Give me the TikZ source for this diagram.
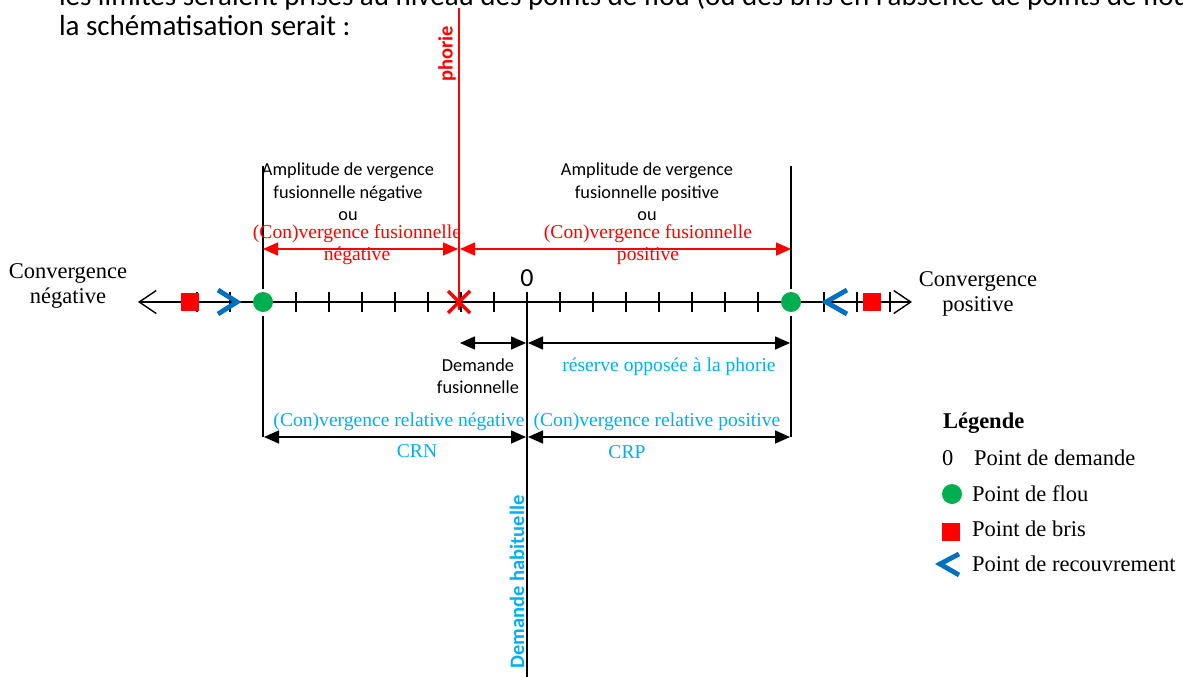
\documentclass[tikz,border=0pt]{standalone}
\usepackage{fontspec}
\setmainfont{Liberation Serif}
\newfontfamily\calib{Carlito}
\usetikzlibrary{arrows.meta}
\definecolor{xred}{HTML}{FF0000}
\definecolor{xblue}{HTML}{0070C0}
\definecolor{xlblue}{HTML}{00B0F0}
\definecolor{xgreen}{HTML}{00B050}
\begin{document}
\begin{tikzpicture}[x=1pt,y=-1pt,
  every node/.style={inner sep=0pt,outer sep=0pt},
  sanslbl/.style={font=\calib\fontsize{18.3}{22.3}\selectfont,align=center},
  seriflbl/.style={font=\fontsize{19.6}{22}\selectfont,align=center},
  bigserif/.style={font=\fontsize{22.5}{25}\selectfont,align=center},
  legtxt/.style={font=\fontsize{22.5}{26}\selectfont,anchor=west},
  vertlbl/.style={rotate=90,font=\calib\bfseries\fontsize{20.5}{24}\selectfont},
  dim/.style={line width=1.6pt,{Triangle[length=15pt,width=13pt]}-{Triangle[length=15pt,width=13pt]}},
  guide/.style={line width=1.2pt},
  tickmark/.style={line width=1.3pt},
  chev/.style={line width=4.8pt,xblue},
  flou/.style={circle,fill=xgreen,minimum size=20pt},
  bris/.style={fill=xred,minimum size=18pt},
  croix/.style={xred,line width=3.5pt},
]
\useasboundingbox (0,0) rectangle (1183,677);
\begin{scope}
\clip (0,0) rectangle (1183,677);
\node[anchor=base west,font=\calib\fontsize{29}{30}\selectfont] (intro1) at (59,6) {les limites seraient prises au niveau des points de flou (ou des bris en l’absence de points de flou)};
\node[anchor=base west,font=\calib\fontsize{29}{30}\selectfont] (intro2) at (59,36) {la schématisation serait :};
\end{scope}

% named coordinates
\coordinate (AL) at (138,302);
\coordinate (AR) at (912,302);
\coordinate (phT) at (459,8);
\coordinate (phB) at (459,310);
\coordinate (LT) at (263,166);
\coordinate (LM1) at (263,289);
\coordinate (LM2) at (263,316);
\coordinate (LB) at (263,437);
\coordinate (RT) at (791,166);
\coordinate (RM1) at (791,289);
\coordinate (RM2) at (791,316);
\coordinate (RB) at (791,437);
\coordinate (CT) at (527,302);
\coordinate (CB) at (527,677);

% vertical guides
\draw[guide] (LT) -- (LM1);
\draw[guide] (LM2) -- (LB);
\draw[guide] (RT) -- (RM1);
\draw[guide] (RM2) -- (RB);
\draw[guide] (CT) -- (CB);
\draw[line width=1.3pt,xred] (phT) -- (phB);

% axis
\draw[line width=1.4pt,{Straight Barb[length=17pt,width=23pt]}-{Straight Barb[length=17pt,width=23pt]}] (AL) -- (AR);
\foreach \k in {-10,...,11} \draw[tickmark] (527+33*\k,292) -- (527+33*\k,312);

% markers on axis
\node[flou] (fl) at (263,302) {};
\node[flou] (fr) at (791,302) {};
\node[bris] (bl) at (190,302) {};
\node[bris] (br) at (872,302) {};
\draw[chev] (218,290) -- (237,302) -- (218,314);
\draw[chev] (847,290) -- (826,302) -- (847,314);
\draw[croix] (448,291) -- (470,313) (448,313) -- (470,291);

% dimension arrows
\draw[dim,xred] (263,249) -- (458,249);
\draw[dim,xred] (460,249) -- (791,249);
\draw[dim] (460,343) -- (526,343);
\draw[dim] (528,343) -- (790,343);
\draw[dim] (264,437) -- (526,437);
\draw[dim] (528,437) -- (790,437);

% labels
\node[sanslbl] (ampneg) at (348,192) {Amplitude de vergence\\fusionnelle négative\\ou};
\node[seriflbl,text=xred] (cfneg) at (357,245) {(Con)vergence fusionnelle\\négative};
\node[sanslbl] (amppos) at (647,192) {Amplitude de vergence\\fusionnelle positive\\ou};
\node[seriflbl,text=xred] (cfpos) at (648,245) {(Con)vergence fusionnelle\\positive};
\node[font=\calib\fontsize{26}{30}\selectfont] (zero) at (527,278) {0};
\node[bigserif] (cneg) at (68,286) {Convergence\\négative};
\node[bigserif] (cpos) at (978,294) {Convergence\\positive};
\node[sanslbl] (dfus) at (478,376) {Demande\\fusionnelle};
\node[seriflbl,text=xlblue] (res) at (669,367) {réserve opposée à la phorie};
\node[seriflbl,text=xlblue] (crneg) at (399,422) {(Con)vergence relative négative};
\node[seriflbl,text=xlblue] (crpos) at (657,422) {(Con)vergence relative positive};
\node[seriflbl,text=xlblue] (crn) at (417,451) {CRN};
\node[seriflbl,text=xlblue] (crp) at (627,452) {CRP};
\node[vertlbl,text=xred] (phorie) at (447,54) {phorie};
\node[vertlbl,text=xlblue] (dhab) at (517,582) {Demande habituelle};

% legend
\node[font=\bfseries\fontsize{22.5}{26}\selectfont,anchor=west] (leg) at (943,423) {Légende};
\node[legtxt] (l0) at (942,458) {0};
\node[legtxt] (l0t) at (974,458) {Point de demande};
\node[flou] (lf) at (952,494) {};
\node[legtxt] (lft) at (972,494) {Point de flou};
\node[bris] (lb) at (951,532) {};
\node[legtxt] (lbt) at (972,529) {Point de bris};
\draw[chev] (959,554) -- (940,564) -- (959,575);
\node[legtxt] (lrt) at (972,564) {Point de recouvrement};
\end{tikzpicture}
\end{document}
